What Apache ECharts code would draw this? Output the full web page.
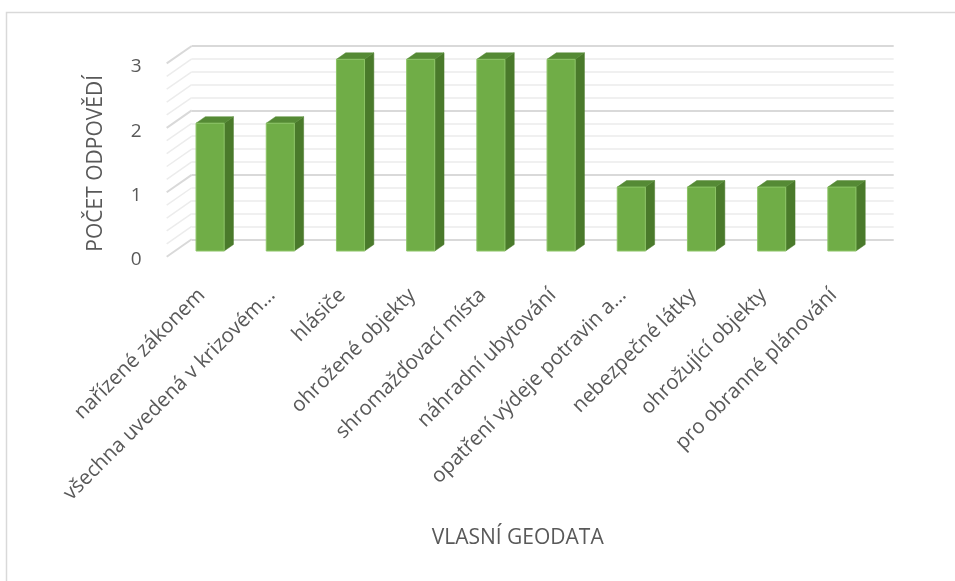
<!DOCTYPE html>
<html>
<head>
<meta charset="utf-8">
<script src="https://cdn.jsdelivr.net/npm/echarts@6/dist/echarts.min.js"></script>
<style>
  html, body { margin: 0; padding: 0; background: #ffffff; }
  #chart { width: 955px; height: 581px; }
</style>
</head>
<body>
<div id="chart"></div>
<script>
// Category names as shown on the axis (long names are cut with an ellipsis)
const categories = [
  'nařízené zákonem',
  'všechna uvedená v krizovém...',
  'hlásiče',
  'ohrožené objekty',
  'shromažďovací místa',
  'náhradní ubytování',
  'opatření výdeje potravin a...',
  'nebezpečné látky',
  'ohrožující objekty',
  'pro obranné plánování'
];
// Number of answers per category
const counts = [2, 2, 3, 3, 3, 3, 1, 1, 1, 1];

const xTitle = 'VLASNÍ GEODATA';
const yTitle = 'POČET ODPOVĚDÍ';

// Value axis settings
const yMin = 0;
const yMax = 3;
const yInterval = 1;
const minorSplits = 5;

// Pseudo-3D geometry (pixels): floor depth vector from the front edge to the back wall
const DEPTH_X = 25, DEPTH_Y = -17.4;
// Depth of each bar box
const BAR_DEPTH_X = 9.3, BAR_DEPTH_Y = -6.5;
const BAR_WIDTH_RATIO = 0.4;

const TEXT = '#595959';
const FONT = '"Open Sans", "DejaVu Sans", sans-serif';
const MAJOR = '#d9d9d9';
const MINOR = '#ececec';

const chart = echarts.init(document.getElementById('chart'), null, { renderer: 'canvas' });

function valueAxis(extra) {
  return Object.assign({
    type: 'value', min: yMin, max: yMax, interval: yInterval,
    axisLine: { show: false }, axisTick: { show: false },
    axisLabel: { show: false }, splitLine: { show: false }
  }, extra);
}
function catAxis(extra) {
  return Object.assign({
    type: 'category', data: categories, boundaryGap: true,
    axisLine: { show: false }, axisTick: { show: false },
    axisLabel: { show: false }, splitLine: { show: false }
  }, extra);
}

// Side wall: diagonal grid lines joining the front edge with the back wall
function renderSideWall(params, api) {
  const left = params.coordSys.x;
  const children = [];
  const steps = (yMax - yMin) / yInterval * minorSplits;
  for (let k = steps; k >= 0; k--) {
    const v = yMin + k * yInterval / minorSplits;
    const y = api.coord([0, v])[1];
    const major = k % minorSplits === 0;
    children.push({
      type: 'line',
      shape: { x1: left, y1: y, x2: left - DEPTH_X, y2: y - DEPTH_Y },
      style: { stroke: major ? MAJOR : MINOR, lineWidth: major ? 2 : 1.5 },
      silent: true
    });
  }
  return { type: 'group', children };
}

// Box-shaped bar: front face, right side and top
function renderBar(params, api) {
  const i = api.value(0);
  const v = api.value(1);
  const base = api.coord([i, 0]);
  const top = api.coord([i, v]);
  const w = api.size([1, 0])[0] * BAR_WIDTH_RATIO;
  const xl = base[0] - w / 2, xr = base[0] + w / 2;
  const yb = base[1], yt = top[1];
  return {
    type: 'group',
    children: [
      {
        type: 'polygon',
        shape: { points: [[xr, yt], [xr + BAR_DEPTH_X, yt + BAR_DEPTH_Y], [xr + BAR_DEPTH_X, yb + BAR_DEPTH_Y], [xr, yb]] },
        style: { fill: '#4a7a2b', stroke: '#4a7a2b', lineWidth: 0.5 }
      },
      {
        type: 'polygon',
        shape: { points: [[xl, yt], [xl + BAR_DEPTH_X, yt + BAR_DEPTH_Y], [xr + BAR_DEPTH_X, yt + BAR_DEPTH_Y], [xr, yt]] },
        style: { fill: '#558a35', stroke: '#558a35', lineWidth: 0.5 }
      },
      {
        type: 'rect',
        shape: { x: xl, y: yt, width: w, height: yb - yt },
        style: { fill: '#70ad47', stroke: '#8cc466', lineWidth: 1 }
      }
    ]
  };
}

const option = {
  backgroundColor: '#ffffff',
  animation: false,
  textStyle: { fontFamily: FONT },
  grid: [
    // back wall
    { left: 191.7, right: 61.3, top: 46, bottom: 341.7 },
    // plane of the bars' front faces
    { left: 175, right: 78, top: 59.3, bottom: 330 },
    // front edge of the floor, carries the axis labels
    { left: 166.7, right: 86.3, top: 66.7, bottom: 321 }
  ],
  xAxis: [
    catAxis({ gridIndex: 0 }),
    catAxis({ gridIndex: 1 }),
    catAxis({
      gridIndex: 2,
      name: xTitle, nameLocation: 'middle', nameGap: 268,
      nameTextStyle: { color: TEXT, fontSize: 21, fontFamily: FONT },
      axisLabel: { show: true, interval: 0, rotate: 45, margin: 32, color: TEXT, fontSize: 20.5, fontFamily: FONT }
    })
  ],
  yAxis: [
    valueAxis({
      gridIndex: 0,
      splitLine: { show: true, lineStyle: { color: MAJOR, width: 2 } },
      minorTick: { show: false, splitNumber: minorSplits },
      minorSplitLine: { show: true, lineStyle: { color: MINOR, width: 1.5 } }
    }),
    valueAxis({ gridIndex: 1 }),
    valueAxis({
      gridIndex: 2,
      name: yTitle, nameLocation: 'middle', nameGap: 60, nameRotate: 90,
      nameTextStyle: { color: TEXT, fontSize: 21, fontFamily: FONT },
      axisLabel: { show: true, margin: 25, color: TEXT, fontSize: 19, fontFamily: FONT }
    })
  ],
  series: [
    {
      type: 'custom', name: 'side wall',
      xAxisIndex: 0, yAxisIndex: 0,
      renderItem: renderSideWall,
      data: [[0, 0]],
      silent: true, z: 1
    },
    {
      type: 'custom', name: yTitle,
      xAxisIndex: 1, yAxisIndex: 1,
      renderItem: renderBar,
      data: counts.map((c, i) => [i, c]),
      encode: { x: 0, y: 1 },
      z: 3
    }
  ],
  graphic: [
    {
      type: 'rect', left: 4, top: 10, silent: true,
      shape: { width: 1000, height: 1000 },
      style: { fill: 'none', stroke: '#d9d9d9', lineWidth: 1.5 }
    }
  ]
};

chart.setOption(option);
</script>
</body>
</html>
